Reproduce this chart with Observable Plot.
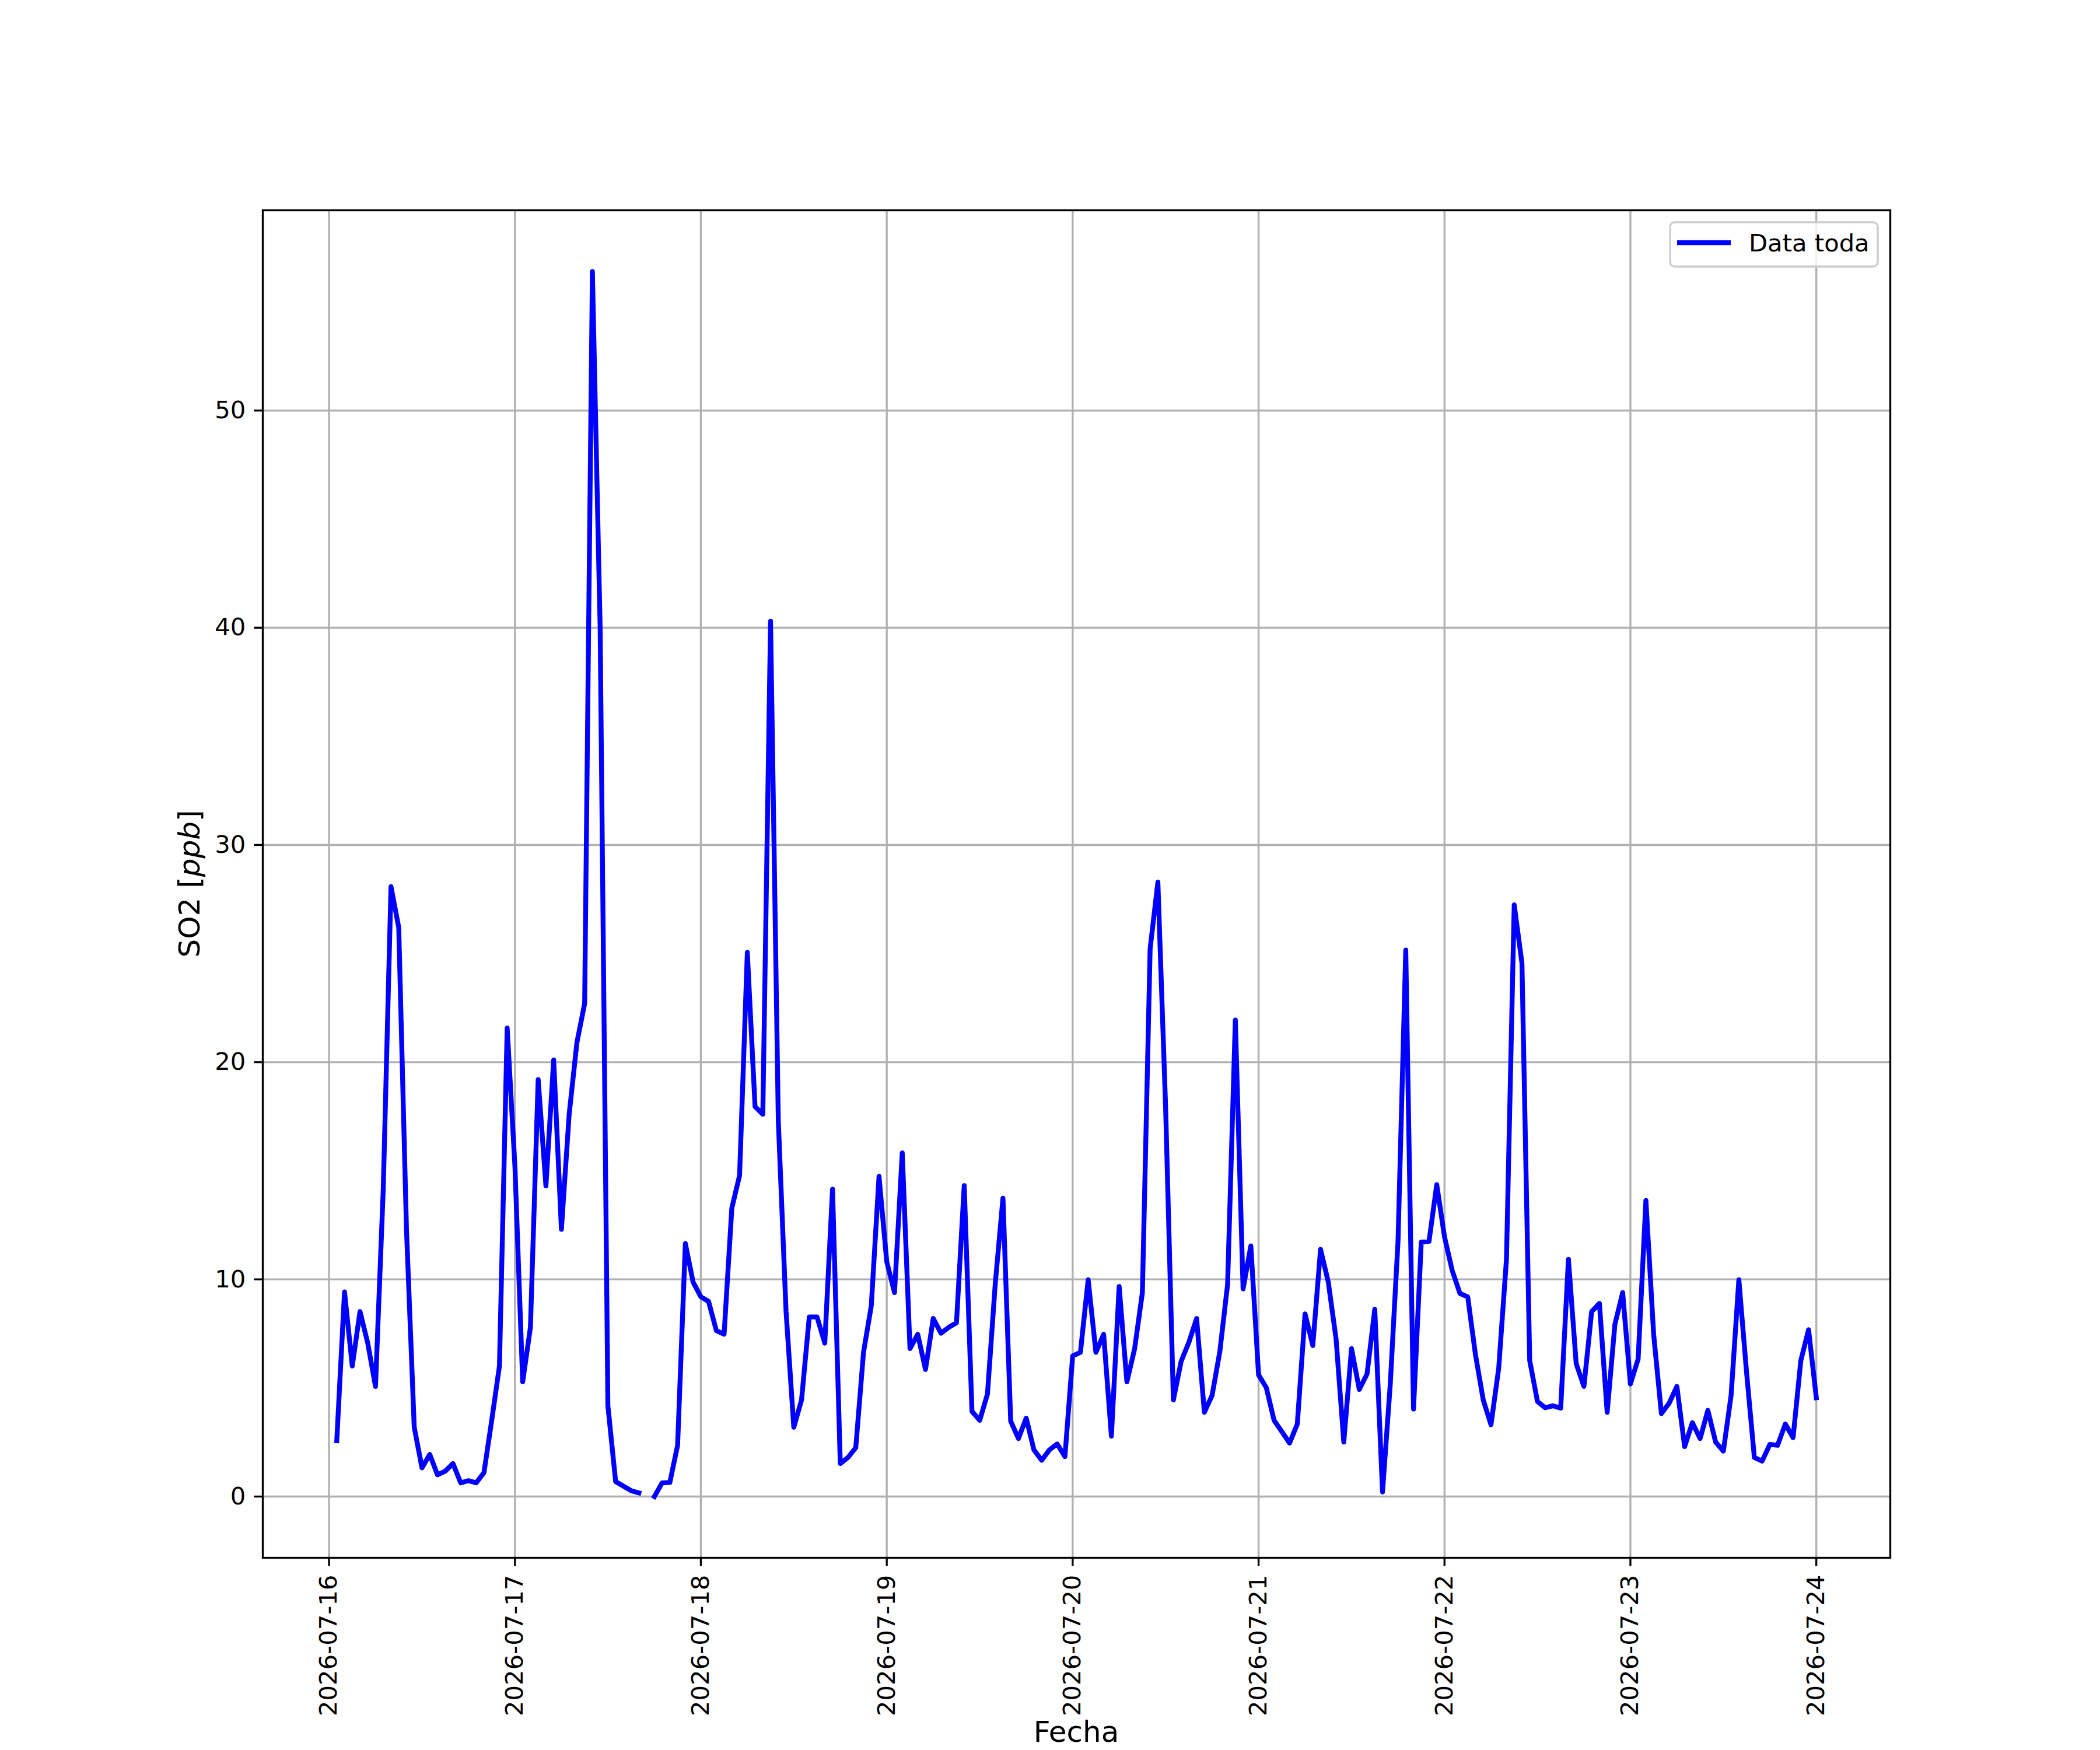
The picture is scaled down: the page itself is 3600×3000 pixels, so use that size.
<!DOCTYPE html>
<html>
<head>
<meta charset="utf-8">
<script src="https://cdn.jsdelivr.net/npm/d3@7"></script>
<script src="https://cdn.jsdelivr.net/npm/@observablehq/plot@0.6"></script>
<style>
  html, body { margin: 0; padding: 0; background: white; }
  #chart svg { display: block; }
</style>
</head>
<body>
<div id="chart"></div>
<script>
// Hourly SO2 values, first value at 2026-07-16 01:00, last at 2026-07-24 00:00
const day16 = [2.57, 9.42, 6.01, 8.52, 7.06, 5.07, 14.15, 28.08, 26.2, 12.28, 3.19, 1.32, 1.94, 1.0, 1.17, 1.52, 0.63, 0.73, 0.63, 1.1, 3.5, 6.01, 21.57, 15.2];
const day17 = [5.28, 7.79, 19.2, 14.3, 20.1, 12.3, 17.6, 20.9, 22.7, 56.4, 40.0, 4.18, 0.69, 0.48, 0.27, 0.17, NaN, 0.0, 0.63, 0.65, 2.36, 11.65, 9.87, 9.2];
const day18 = [8.98, 7.64, 7.47, 13.28, 14.78, 25.05, 17.95, 17.6, 40.3, 17.3, 8.52, 3.19, 4.45, 8.27, 8.27, 7.06, 14.15, 1.52, 1.8, 2.25, 6.64, 8.77, 14.74, 10.81];
const day19 = [9.39, 15.82, 6.81, 7.47, 5.85, 8.2, 7.52, 7.79, 8.0, 14.32, 3.92, 3.51, 4.72, 9.77, 13.74, 3.47, 2.67, 3.61, 2.15, 1.67, 2.15, 2.42, 1.84, 6.47];
const day20 = [6.64, 9.98, 6.64, 7.47, 2.78, 9.67, 5.28, 6.81, 9.39, 25.22, 28.29, 17.91, 4.45, 6.22, 7.1, 8.2, 3.88, 4.66, 6.68, 9.77, 21.94, 9.56, 11.54, 5.6];
const day21 = [5.01, 3.51, 2.99, 2.46, 3.34, 8.41, 6.95, 11.38, 9.87, 7.27, 2.51, 6.81, 4.93, 5.64, 8.62, 0.21, 5.18, 11.75, 25.16, 4.03, 11.71, 11.75, 14.36, 11.96];
const day22 = [10.4, 9.35, 9.19, 6.53, 4.45, 3.3, 5.91, 10.92, 27.24, 24.55, 6.26, 4.38, 4.09, 4.18, 4.07, 10.92, 6.12, 5.07, 8.52, 8.89, 3.88, 7.93, 9.39, 5.18];
const day23 = [6.33, 13.63, 7.47, 3.82, 4.3, 5.07, 2.3, 3.4, 2.67, 3.97, 2.51, 2.09, 4.66, 9.98, 5.7, 1.8, 1.63, 2.4, 2.36, 3.34, 2.71, 6.26, 7.68, 4.55];

const yTicks = [0, 10, 20, 30, 40, 50];
const xTickLabels = ["2026-07-16","2026-07-17","2026-07-18","2026-07-19","2026-07-20","2026-07-21","2026-07-22","2026-07-23","2026-07-24"];
const legendLabel = "Data toda";
const xLabel = "Fecha";

const values = [].concat(day16, day17, day18, day19, day20, day21, day22, day23);
const start = Date.UTC(2026, 6, 16, 1);
const data = values.map((v, i) => ({date: new Date(start + i * 3600e3), value: v}));

const xTicks = xTickLabels.map(s => new Date(s + "T00:00:00Z"));

const tMin = data[0].date.getTime(), tMax = data[data.length - 1].date.getTime();
const tPad = 0.05 * (tMax - tMin);
const finite = values.filter(v => Number.isFinite(v));
const vMin = d3.min(finite), vMax = d3.max(finite);
const vPad = 0.05 * (vMax - vMin);

const LW = 3.33;
const chart = Plot.plot({
  width: 3600,
  height: 3000,
  marginLeft: 450,
  marginRight: 360,
  marginTop: 360,
  marginBottom: 330,
  style: {fontFamily: "DejaVu Sans", fontSize: "41.7px", background: "white", color: "black"},
  x: {type: "utc", domain: [new Date(tMin - tPad), new Date(tMax + tPad)]},
  y: {domain: [vMin - vPad, vMax + vPad]},
  marks: [
    Plot.gridX(xTicks, {stroke: "#b0b0b0", strokeOpacity: 1, strokeWidth: LW}),
    Plot.gridY(yTicks, {stroke: "#b0b0b0", strokeOpacity: 1, strokeWidth: LW}),
    Plot.line(data, {x: "date", y: "value", stroke: "#0000ff", strokeWidth: 8.33,
      strokeLinejoin: "round", strokeLinecap: "square"}),
    Plot.frame({stroke: "black", strokeWidth: LW}),
    Plot.axisX(xTicks, {
      tickFormat: d3.utcFormat("%Y-%m-%d"), tickRotate: -90,
      tickSize: 14.6, tickPadding: 14.6, strokeWidth: LW, label: null,
      fontSize: 41.7, fill: "black"
    }),
    Plot.axisY(yTicks, {
      tickFormat: d => String(d), tickSize: 14.6, tickPadding: 14.6,
      strokeWidth: LW, label: null, fontSize: 41.7, fill: "black"
    })
  ]
});

document.getElementById("chart").appendChild(chart);

const svg = d3.select(chart);
// x label
svg.append("text")
  .attr("x", 1845).attr("y", 2986)
  .attr("text-anchor", "middle")
  .attr("font-family", "DejaVu Sans").attr("font-size", 50).attr("fill", "black")
  .text(xLabel);
// y label with italic unit
const yl = svg.append("text")
  .attr("transform", "translate(342,1515) rotate(-90)")
  .attr("text-anchor", "middle")
  .attr("font-family", "DejaVu Sans").attr("font-size", 50).attr("fill", "black");
yl.append("tspan").text("SO2 [");
yl.append("tspan").attr("font-style", "italic").text("ppb");
yl.append("tspan").text("]");

// legend
const lg = svg.append("g");
lg.append("rect")
  .attr("x", 2863).attr("y", 381).attr("width", 356).attr("height", 76)
  .attr("rx", 8).attr("ry", 8)
  .attr("fill", "white").attr("fill-opacity", 0.8)
  .attr("stroke", "#cccccc").attr("stroke-width", LW);
lg.append("line")
  .attr("x1", 2875).attr("x2", 2967).attr("y1", 416).attr("y2", 416)
  .attr("stroke", "#0000ff").attr("stroke-width", 8.33);
lg.append("text")
  .attr("x", 2998).attr("y", 431)
  .attr("text-anchor", "start")
  .attr("font-family", "DejaVu Sans").attr("font-size", 41.7).attr("fill", "black")
  .text(legendLabel);
</script>
</body>
</html>
